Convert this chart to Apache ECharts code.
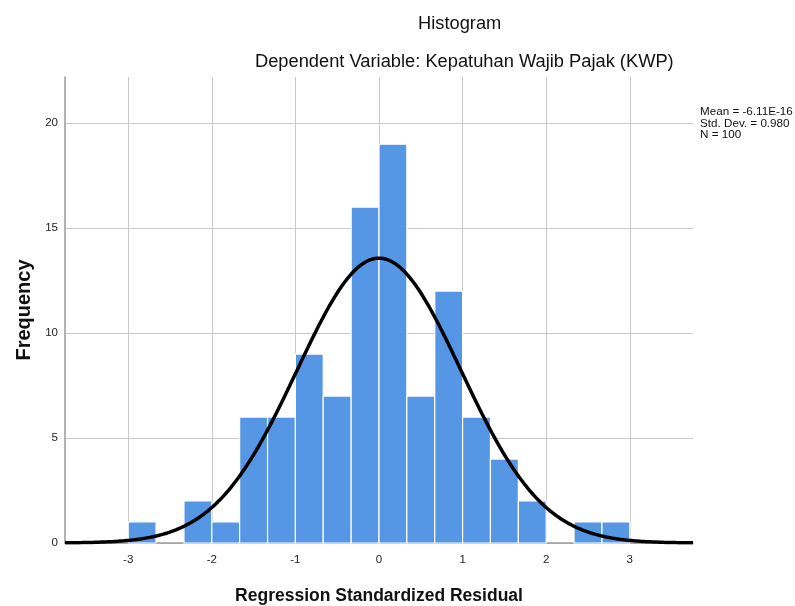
<!DOCTYPE html>
<html><head><meta charset="utf-8">
<script src="https://cdn.jsdelivr.net/npm/echarts@6/dist/echarts.min.js"></script>
<style>html,body{margin:0;padding:0;background:#fff}#c{width:795px;height:606px}</style>
</head><body><div id="c"></div>
<script>
// Histogram bins (lower edge, upper edge) and counts
var binStarts = [-3.0, -2.667, -2.333, -2.0, -1.667, -1.333, -1.0, -0.667, -0.333, 0.0, 0.333, 0.667, 1.0, 1.333, 1.667, 2.0, 2.333, 2.667];
var binEnds   = [-2.667, -2.333, -2.0, -1.667, -1.333, -1.0, -0.667, -0.333, 0.0, 0.333, 0.667, 1.0, 1.333, 1.667, 2.0, 2.333, 2.667, 3.0];
var counts    = [1, 0, 2, 1, 6, 6, 9, 7, 16, 19, 7, 12, 6, 4, 2, 0, 1, 1];
var xTicks = [-3, -2, -1, 0, 1, 2, 3];
var yTicks = [0, 5, 10, 15, 20];
var statMean = -6.11e-16, statSd = 0.980, statN = 100;
var statLines = ['Mean = -6.11E-16', 'Std. Dev. = 0.980', 'N = 100'];

var binWidth = 1 / 3;
var xMin = -3.756, xMax = 3.756;

// fitted normal curve from the reported mean / sd / N
var curve = [];
for (var i = 0; i <= 300; i++) {
  var x = xMin + (xMax - xMin) * i / 300;
  var z = (x - statMean) / statSd;
  curve.push([x, statN * binWidth * Math.exp(-0.5 * z * z) / (statSd * Math.sqrt(2 * Math.PI))]);
}
var bars = [];
for (var j = 0; j < counts.length; j++) {
  if (counts[j] > 0) bars.push([binStarts[j], binEnds[j], counts[j]]);
}

var chart = echarts.init(document.getElementById('c'), null, {renderer: 'canvas'});
var FONT = 'Liberation Sans, Arial, sans-serif';
chart.setOption({
  animation: false,
  backgroundColor: '#fff',
  grid: {left: 65, right: 102, top: 77, bottom: 63, containLabel: false, outerBoundsMode: 'none'},
  xAxis: {
    type: 'value', min: xMin, max: xMax,
    axisLine: {show: true, onZero: false, lineStyle: {color: '#9a9a9a', width: 1.5}},
    axisTick: {show: false, customValues: xTicks},
    axisLabel: {customValues: xTicks, color: '#222', fontFamily: FONT, fontSize: 11.5, margin: 11},
    splitLine: {show: true, lineStyle: {color: '#c8c8c8', width: 1}},
    name: 'Regression Standardized Residual', nameLocation: 'middle', nameGap: 44,
    nameTextStyle: {fontFamily: FONT, fontSize: 17.5, fontWeight: 'bold', color: '#111'}
  },
  yAxis: {
    type: 'value', min: 0, max: 22.2,
    axisLine: {show: true, onZero: false, lineStyle: {color: '#9a9a9a', width: 1.5}},
    axisTick: {show: false, customValues: yTicks},
    axisLabel: {customValues: yTicks, color: '#222', fontFamily: FONT, fontSize: 11.5, margin: 7, padding: [8, 0, 0, 0]},
    splitLine: {show: true, lineStyle: {color: '#c8c8c8', width: 1}},
    name: 'Frequency', nameLocation: 'middle', nameGap: 31,
    nameTextStyle: {fontFamily: FONT, fontSize: 20, fontWeight: 'bold', color: '#111'}
  },
  graphic: [
    {type: 'text', left: 418, top: 15, style: {text: 'Histogram', font: '18.3px ' + FONT, fill: '#111'}},
    {type: 'text', left: 255, top: 53, style: {text: 'Dependent Variable: Kepatuhan Wajib Pajak (KWP)', font: '18.3px ' + FONT, fill: '#111'}},
    {type: 'text', x: 700, y: 106.5, scaleX: 1.06, style: {text: statLines.join('\n'), font: '11px ' + FONT, lineHeight: 11.5, fill: '#111'}}
  ],
  series: [
    {
      type: 'custom',
      data: bars,
      encode: {x: [0, 1], y: 2},
      renderItem: function (params, api) {
        var p0 = api.coord([api.value(0), 0]);
        var p1 = api.coord([api.value(1), api.value(2)]);
        return {
          type: 'rect',
          shape: {x: p0[0], y: p1[1], width: p1[0] - p0[0], height: p0[1] - p1[1]},
          style: {fill: '#5596e5', stroke: '#ffffff', lineWidth: 1.2}
        };
      },
      z: 2
    },
    {
      type: 'line', data: curve, showSymbol: false, symbol: 'none', smooth: false,
      lineStyle: {color: '#000', width: 3.5}, z: 3
    }
  ]
});
</script></body></html>
